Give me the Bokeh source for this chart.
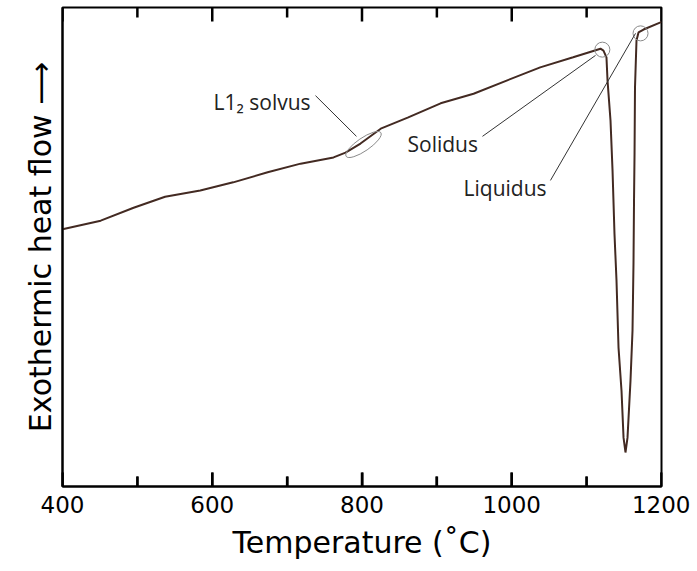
from bokeh.plotting import figure
from bokeh.models import FixedTicker, Range1d, ColumnDataSource
from bokeh.core.properties import value
from bokeh.embed import file_html
from bokeh.resources import INLINE

# ---- data ----
temperature = [400, 451, 495, 537, 584, 628, 674, 718, 762, 778, 798, 825, 861, 905,
               949, 994, 1038, 1082, 1118.5, 1122.5, 1126.5, 1127.9, 1131.9, 1134.6,
               1137.2, 1139.9, 1142.6, 1146.6, 1149.3, 1151.9, 1154.6, 1158.6, 1161.3,
               1162.6, 1163.3, 1164.0, 1164.6, 1166.6, 1169.3, 1176.0, 1198.7, 1200]
heat_flow = [53.7, 55.5, 58.2, 60.5, 61.8, 63.5, 65.6, 67.4, 68.7, 69.7, 71.6, 74.7, 77.0,
             80.0, 82.0, 84.8, 87.5, 89.6, 91.4, 91.0, 89.6, 84.8, 76.4, 66.0, 52.8, 43.0,
             29.0, 20.0, 10.2, 7.1, 10.2, 22.1, 32.6, 46.6, 59.7, 69.5, 83.3, 93.1, 94.8,
             95.4, 96.9, 97.0]

x_ticks_major = [400, 600, 800, 1000, 1200]
x_ticks_minor = [500, 700, 900, 1100]

marker_names = ["Solidus", "Liquidus"]
marker_t = [1121, 1172]
marker_v = [91.2, 94.6]

solvus_name = "L1\u2082 solvus"
solvus_t = 802
solvus_v = 71.4

Y_MIN, Y_MAX = 0, 100

FONT = "DejaVu Sans"
ANN_FONT = "Open Sans"
CURVE = "#432a22"

W, H = 690, 563
B_LEFT, B_RIGHT, B_TOP, B_BOTTOM = 62, 29, 7, 77
px = (Y_MAX - Y_MIN) / (H - B_TOP - B_BOTTOM)   # data units per vertical pixel

p = figure(width=W, height=H, output_backend="svg", toolbar_location=None,
           x_range=Range1d(400, 1200), y_range=Range1d(Y_MIN, Y_MAX),
           min_border_left=B_LEFT, min_border_right=B_RIGHT,
           min_border_top=B_TOP, min_border_bottom=B_BOTTOM)

p.grid.visible = False
p.outline_line_color = "black"
p.outline_line_width = 2

# bottom axis with inward ticks
xa = p.xaxis[0]
xa.ticker = FixedTicker(ticks=x_ticks_major, minor_ticks=x_ticks_minor)
xa.axis_line_color = "black"
xa.axis_line_width = 2
xa.major_tick_line_color = "black"
xa.minor_tick_line_color = "black"
xa.major_tick_line_width = 2
xa.minor_tick_line_width = 2
xa.major_tick_in = 14
xa.major_tick_out = 0
xa.minor_tick_in = 10
xa.minor_tick_out = 0
xa.major_label_text_font = FONT
xa.major_label_text_font_size = "23px"
xa.major_label_text_color = "black"
xa.major_label_standoff = 9
xa.axis_label = "Temperature (\u02daC)"
xa.axis_label_text_font = FONT
xa.axis_label_text_font_size = "30px"
xa.axis_label_text_font_style = "normal"
xa.axis_label_text_color = "black"
xa.axis_label_standoff = 9

# left axis: label only
ya = p.yaxis[0]
ya.ticker = FixedTicker(ticks=[])
ya.axis_line_color = "black"
ya.axis_line_width = 2
ya.major_tick_line_color = None
ya.minor_tick_line_color = None
ya.major_tick_in = 0
ya.major_tick_out = 0
ya.major_label_standoff = 0
ya.axis_label = "Exothermic heat flow \u27f6"
ya.axis_label_text_font = FONT
ya.axis_label_text_font_size = "30px"
ya.axis_label_text_font_style = "normal"
ya.axis_label_text_color = "black"
ya.axis_label_standoff = 5

# inward ticks drawn as thin filled bars just inside the bottom and top edges
for edge, sgn in ((Y_MIN, 1), (Y_MAX, -1)):
    for ticks, length in ((x_ticks_major, 14), (x_ticks_minor, 10)):
        n = len(ticks)
        p.rect(x=ticks, y=[edge + sgn * (length / 2) * px] * n,
               width=2.5, height=length, width_units="screen", height_units="screen",
               fill_color="black", line_color=None)

# curve
src = ColumnDataSource(dict(t=temperature, v=heat_flow))
p.line("t", "v", source=src, line_color=CURVE, line_width=2)

# markers
p.scatter(marker_t, marker_v, marker="circle", size=15, fill_color=None,
          line_color="#8a8a8a", line_width=1)
p.ellipse(x=[solvus_t], y=[solvus_v], width=[42], height=[13], angle=[0.6],
          width_units="screen", height_units="screen", angle_units="rad",
          fill_color=None, line_color="#8a8a8a", line_width=1)

# leader lines
p.segment(x0=[737.9, 960.9, 1051.7], y0=[81.6, 73.1, 63.9],
          x1=[792.6, 1111.9, 1165.3], y1=[73.1, 90.0, 94.6],
          line_color="#333333", line_width=1)

# labels
p.text(x=[601.7, 860.8, 935.6], y=[80.2, 71.4, 62.4],
       text=[solvus_name, marker_names[0], marker_names[1]],
       text_font=value(ANN_FONT), text_font_size="21px", text_color="#222222",
       text_baseline="alphabetic", text_align="left")

open("out.html", "w").write(file_html(p, INLINE))
